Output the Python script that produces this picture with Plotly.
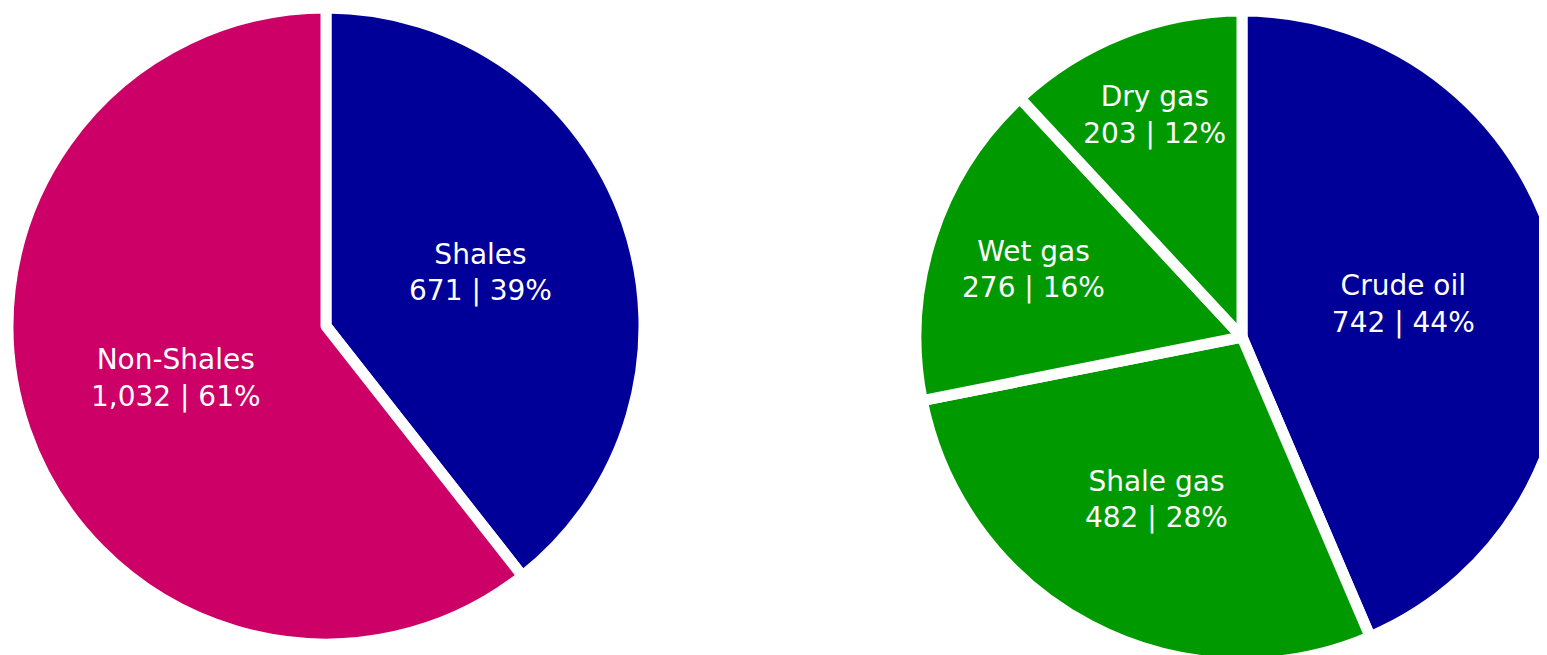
import plotly.graph_objects as go

left_labels = ["Shales", "Non-Shales"]
left_values = [671, 1032]
left_colors = ["#000099", "#CC0066"]

right_labels = ["Crude oil", "Shale gas", "Wet gas", "Dry gas"]
right_values = [742, 482, 276, 203]
right_colors = ["#000099", "#009900", "#009900", "#009900"]

# figure is a bit larger than the window so the right pie is cut off like in the original
W, H = 1570, 670
FONT = dict(family="DejaVu Sans", size=28, color="white")


def dom(cx, cy, r):
    # square domain (paper fractions) for a pie centred at cx, cy (px from top-left)
    return dict(x=[max(cx - r, 0) / W, (cx + r) / W],
                y=[1 - (cy + r) / H, 1 - max(cy - r, 0) / H])


fig = go.Figure()

fig.add_trace(go.Pie(
    labels=left_labels,
    values=left_values,
    sort=False,
    direction="clockwise",
    rotation=0,
    marker=dict(colors=left_colors, line=dict(color="white", width=11)),
    texttemplate="%{label}<br>%{value:,} | %{percent:.0%}",
    textposition="inside",
    insidetextorientation="horizontal",
    textfont=FONT,
    hoverinfo="label+value+percent",
    domain=dict(x=[0, 636 / W], y=[1 - 636 / H, 1]),
    showlegend=False,
))

fig.add_trace(go.Pie(
    labels=right_labels,
    values=right_values,
    sort=False,
    direction="clockwise",
    rotation=0,
    marker=dict(colors=right_colors, line=dict(color="white", width=11)),
    texttemplate="%{label}<br>%{value:,} | %{percent:.0%}",
    textposition="inside",
    insidetextorientation="horizontal",
    textfont=FONT,
    hoverinfo="label+value+percent",
    domain=dom(1234, 329, 326),
    showlegend=False,
))

fig.update_layout(
    width=W,
    height=H,
    margin=dict(l=0, r=0, t=0, b=0),
    paper_bgcolor="white",
    plot_bgcolor="white",
    uniformtext=dict(minsize=28, mode="show"),
)

fig.write_html("out.html")
